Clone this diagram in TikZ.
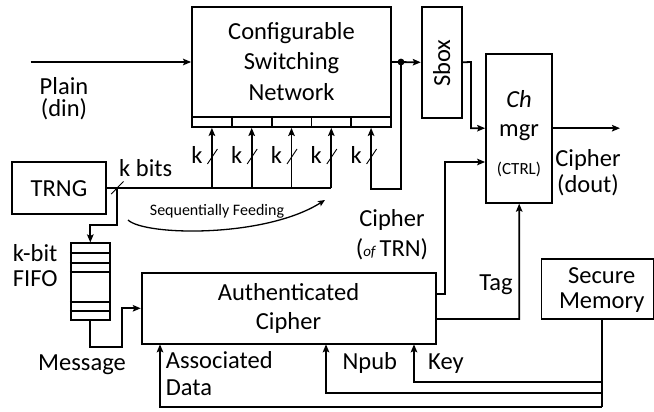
\documentclass[tikz,border=0pt]{standalone}
\usepackage{fontspec}
\setmainfont{Carlito}
\usetikzlibrary{arrows.meta}
\newcommand\mainsz{\fontsize{24.5}{28}\selectfont}
\newcommand\smallsz{\fontsize{17}{20}\selectfont}
\newcommand\tinysz{\fontsize{16}{19}\selectfont}
\begin{document}
\begin{tikzpicture}[x=1pt,y=-1pt,line width=1.8pt,
  box/.style={draw,rectangle,inner sep=0pt},
  lbl/.style={inner sep=0pt,anchor=base,font=\mainsz},
  arr/.style={-{Stealth[length=8pt,width=6.5pt,inset=1.5pt]}},
  wire/.style={line join=miter}]
\useasboundingbox (0,0) rectangle (654,412);
% boxes
\node[box,minimum width=199pt,minimum height=110pt] (csn) at (291.5,62) {};
\node[box,minimum width=40pt,minimum height=110.7pt] (sbox) at (441.7,62.3) {};
\node[box,minimum width=66.3pt,minimum height=148.7pt] (ch) at (519.2,128.4) {};
\node[box,minimum width=93.7pt,minimum height=52.6pt] (trng) at (59.2,188) {};
\node[box,minimum width=39.3pt,minimum height=76.7pt] (fifo) at (90.3,281.7) {};
\node[box,minimum width=294pt,minimum height=71pt] (auth) at (288.7,308.8) {};
\node[box,minimum width=112pt,minimum height=59.7pt] (mem) at (597.5,289.2) {};
% register strip
\foreach \i/\xc in {1/211.9,2/251.7,3/291.5,4/331.3,5/371.1}{
  \node[box,minimum width=39.8pt,minimum height=10pt] (r\i) at (\xc,122) {};
}
% fifo lines
\foreach \yy in {253.3,262.7,271.7,301.7,311}{
  \draw (fifo.west |- 0,\yy) -- (fifo.east |- 0,\yy);
}
% texts
\node[lbl] (t1) at (291.5,40) {Configurable};
\node[lbl] (t2) at (291.5,70) {Switching};
\node[lbl] (t3) at (291.5,100) {Network};
\node[lbl] (p1) at (64,94.3) {Plain};
\node[lbl] (p2) at (64,117) {(din)};
\node[lbl] (tr) at (59,196.7) {TRNG};
\node[lbl] (kb) at (145.7,176.7) {k bits};
\node[inner sep=0pt,rotate=90,font=\mainsz] (sb) at (441.7,63) {Sbox};
\node[lbl] (c1) at (519,107.3) {\itshape Ch};
\node[lbl] (c2) at (519,136.7) {mgr};
\node[lbl,font=\smallsz] (c3) at (519,175) {(CTRL)};
\node[lbl] (d1) at (588,166.7) {Cipher};
\node[lbl] (d2) at (588,192.7) {(dout)};
\node[lbl] (o1) at (392,226) {Cipher};
\node[lbl] (o2) at (392,256.7) {({\fontsize{15}{18}\selectfont\itshape of}\,TRN)};
\node[lbl,anchor=base west] (f1) at (12,261.5) {k-bit};
\node[lbl,anchor=base west] (f2) at (12,286.7) {FIFO};
\node[lbl] (ms) at (82,370) {Message};
\node[lbl] (a1) at (288.5,300.7) {Authenticated};
\node[lbl] (a2) at (288.5,329) {Cipher};
\node[lbl,anchor=base west] (ad1) at (165,368.3) {Associated};
\node[lbl,anchor=base west] (ad2) at (165,395) {Data};
\node[lbl,anchor=base west] (np) at (341.7,369.3) {Npub};
\node[lbl,anchor=base west] (ky) at (427.3,369.3) {Key};
\node[lbl] (tg) at (496,290.7) {Tag};
\node[lbl] (m1) at (601.7,283.3) {Secure};
\node[lbl] (m2) at (601.7,308.3) {Memory};
\node[lbl,font=\tinysz] (sq) at (217,215) {Sequentially Feeding};
% coordinates
\coordinate (pin) at (30.7,62);
\coordinate (dot) at (401,62);
\coordinate (busend) at (331.3,188);
\coordinate (tap) at (117.3,188);
\coordinate (cout) at (620,128.2);
% plain input
\draw[arr] (pin) -- (csn.west);
% csn to sbox with feedback
\draw[arr] (csn.east) -- (sbox.west);
\fill (dot) circle (3.4pt);
\draw[wire,arr] (dot) -- (401,189) -- (371.1,189) -- (r5.south);
% bus
\draw (trng.east |- busend) -- (busend);
\foreach \i/\xc in {1/211.9,2/251.7,3/291.5,4/331.3}{
  \draw[arr] (\xc,188) -- (r\i.south);
}
% k labels and slashes
\foreach \i/\xc in {1/211.9,2/251.7,3/291.5,4/331.3,5/371.1}{
  \node[lbl] (k\i) at (\xc-15,163.3) {k};
  \draw[line width=0.9pt] (\xc-4.5,164) -- (\xc+5.5,149);
}
\draw[line width=0.9pt] (111.2,194) -- (123.5,181.5);
% trng to fifo
\draw[wire,arr] (tap) -- (117.3,225) -- (90.3,225) -- (fifo.north);
% fifo to auth
\draw[wire,arr] (fifo.south) -- (90.3,346.7) -- (121.7,346.7) -- (121.7,308.3) -- (auth.west |- 0,308.3);
% sbox to ch
\draw[wire,arr] (sbox.east) -- (471,62) -- (471,128.2) -- (ch.west |- 0,128.2);
\draw[arr] (ch.east |- cout) -- (cout);
% cipher of TRN
\draw[wire,arr] (auth.east |- 0,294) -- (445,294) -- (445,162) -- (ch.west |- 0,162);
% tag
\draw[wire,arr] (auth.east |- 0,319) -- (519.3,319) -- (ch.south);
% memory
\draw[wire] (mem.south -| 601.7,0) -- (601.7,406.7);
\draw[wire,arr] (601.7,381.7) -- (414,381.7) -- (414,344.3);
\draw[wire,arr] (601.7,393.3) -- (326,393.3) -- (326,344.3);
\draw[wire,arr] (601.7,406.7) -- (160,406.7) -- (160,344.3);
% sequentially feeding curve
\draw[line width=1.3pt,-{Stealth[length=7pt,width=6pt,inset=1.5pt]}] (128,220) .. controls (145,236) and (265,238) .. (325,200);
\end{tikzpicture}
\end{document}
